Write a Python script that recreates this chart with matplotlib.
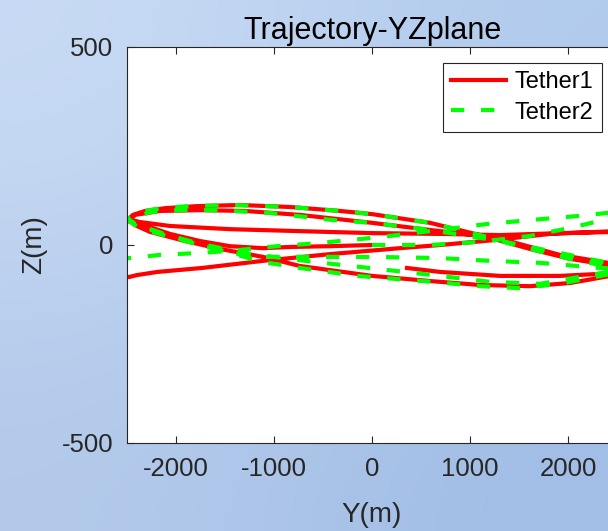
import numpy as np
import matplotlib
matplotlib.use('Agg')
from matplotlib import pyplot as plt

# Tether1 trajectory (Y, Z) in metres
red_y = [0, -429, -837, -1112, -1449, -1755, -2061, -2265, -2418, -2480,
         -2440, -2316, -2112, -1796, -1347, -837, -327, 0, 592, 1102, 1612, 2020, 2480, 2750,
         2800, 2750,
         2480, 1918, 1306, 694, 0, -735, -1449, -2061, -2367, -2470,
         -2418, -2163, -1755, -1296, -735, 0, 592, 1275, 1918, 2480, 2750,
         2800, 2750,
         2480, 1816, 1275, 694, 286, -429, -1112, -1735, -2190, -2400, -2480,
         -2650, -2650,
         -2470, -2418, -2265, -1908, -1551, -1112, -735, 0, 592, 1102, 1612, 2020, 2480, 2750,
         2800,
         2480, 1918, 1306, 694, 357]
red_z = [0, -3, -5, -8, -3, 10, 28, 45, 58, 66,
         76, 86, 93, 98, 101, 96, 86, 78, 56, 25, -10, -35, -53, -40,
         0, 30,
         33, 30, 25, 28, 30, 35, 40, 48, 58, 64,
         76, 86, 88, 86, 76, 56, 38, 18, -25, -48, -35,
         0, 35,
         35, 28, 13, 0, -8, -23, -40, -58, -68, -76, -81,
         -75, 55,
         60, 50, 33, 10, -10, -30, -53, -78, -91, -101, -104, -96, -76, -60,
         -75,
         -71, -78, -78, -68, -58]

# Tether2 trajectory (Y, Z) in metres
green_y = [0, 592, 1102, 1612, 2020, 2327, 2480, 2750,
           2800, 2750,
           2480, 1918, 1510, 1102, 622, -153, -735, -1112, -1551, -1908, -2245, -2418, -2480,
           -2470, -2367, -2163, -1877, -1398, -837, -327, 0, 592, 1102, 1612, 2020, 2480, 2750,
           2800, 2750,
           2480, 2092, 1612, 1173, 694, 82, -531, -969, -1449, -1755, -2163, -2469,
           -2650, -2650,
           -2480, -2265, -1959, -1602, -1041, -398, 0, 592, 1306, 1816, 2408, 2750,
           2800, 2750,
           2480, 2327, 1714, 1204, 694, 0, -735, -1143, -1449, -1755, -2082, -2388, -2480,
           -2418, -2163, -1755, -1245, -582, 82, 622, 1204, 1714, 2408]
green_z = [0, 0, 8, 23, 43, 61, 68, 75,
           60, -60,
           -71, -98, -109, -104, -93, -78, -58, -43, -13, 10, 33, 50, 61,
           70, 83, 93, 98, 101, 96, 86, 78, 56, 25, -10, -35, -58, -50,
           0, 80,
           83, 73, 63, 53, 38, 20, 5, -3, -15, -20, -25, -33,
           -35, 60,
           63, 83, 88, 88, 81, 63, 56, 38, 10, -15, -45, -55,
           -30, -60,
           -60, -58, -45, -40, -33, -30, -30, -30, -20, 0, 25, 50, 63,
           53, 30, 3, -23, -43, -61, -76, -93, -98, -68]

x_ticks = [-2000, -1000, 0, 1000, 2000]
y_ticks = [-500, 0, 500]

plt.rcParams['font.family'] = ['Liberation Sans', 'DejaVu Sans']
plt.rcParams['axes.unicode_minus'] = False
ink = '#262626'

fig = plt.figure(figsize=(6.08, 5.31), dpi=100)

# gradient backdrop like the MATLAB figure
bg = fig.add_axes([0, 0, 1, 1], zorder=-10)
grad = np.array([[[0.79, 0.86, 0.96], [0.70, 0.80, 0.93]],
                 [[0.70, 0.79, 0.92], [0.63, 0.74, 0.90]]])
bg.imshow(grad, extent=[0, 1, 0, 1], aspect='auto', interpolation='bicubic')
bg.axis('off')

ax = fig.add_axes([127 / 608, 88 / 531, 490 / 608, 396 / 531])
ax.set_facecolor('white')
ax.plot(red_y, red_z, color='#ff0000', lw=3, label='Tether1')
ax.plot(green_y, green_z, color='#00ff00', lw=3, dashes=(3.2, 4), label='Tether2')

ax.set_xlim(-2500, 2500)
ax.set_ylim(-500, 500)
ax.set_xticks(x_ticks)
ax.set_yticks(y_ticks)
ax.tick_params(direction='in', top=True, right=True, length=5, width=0.8,
               labelsize=18.5, colors=ink, pad=10)
for s in ax.spines.values():
    s.set_color(ink)
    s.set_linewidth(0.8)

ax.set_title('Trajectory-YZplane', fontsize=22, color='black', pad=6)
ax.set_xlabel('Y(m)', fontsize=20, color=ink, labelpad=15)
ax.set_ylabel('Z(m)', fontsize=20, color=ink)
ax.yaxis.set_label_coords(-0.163, 0.5)

leg = ax.legend(loc='upper right', bbox_to_anchor=(602 / 608, 1 - 63 / 531),
                bbox_transform=fig.transFigure, borderaxespad=0, fontsize=17,
                fancybox=False, framealpha=1, edgecolor=ink, handlelength=2.3,
                borderpad=0.35, labelspacing=0.35, handletextpad=0.4)
leg.get_frame().set_linewidth(0.8)

fig.savefig('out.png', dpi=100)
